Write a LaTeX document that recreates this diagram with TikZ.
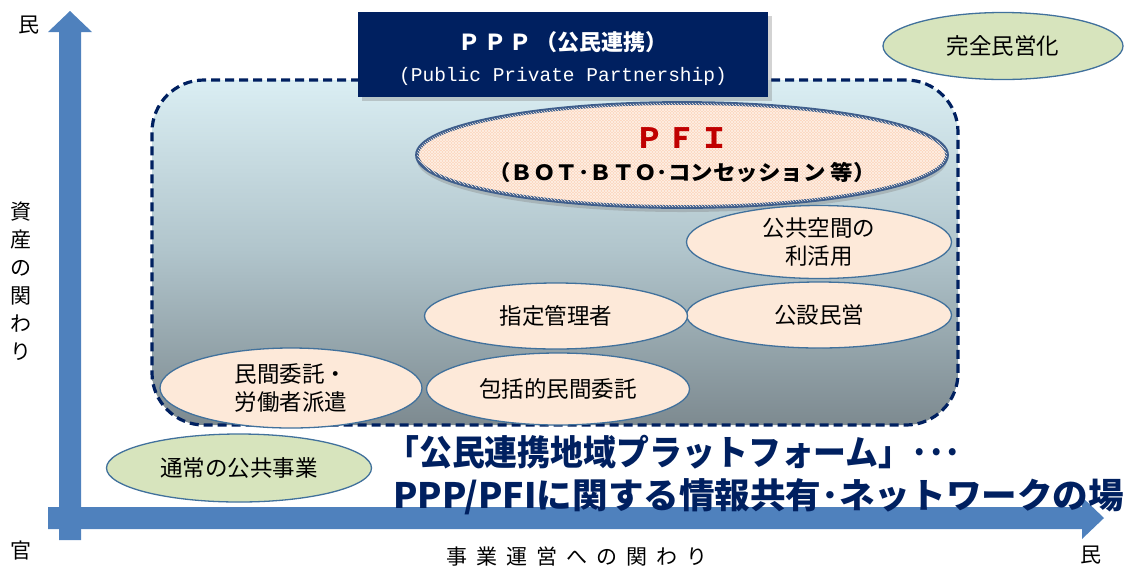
\documentclass[tikz,border=0pt]{standalone}
\usepackage{fontspec}
\setmainfont{Noto Sans CJK JP}
\newfontfamily\jp{Noto Sans CJK JP}
\newfontfamily\monofnt{Liberation Mono}
\usetikzlibrary{shapes.geometric,shadows,patterns}
\definecolor{navy}{HTML}{002060}
\definecolor{axisblue}{HTML}{4F81BD}
\definecolor{ellborder}{HTML}{41719C}
\definecolor{peach}{HTML}{FDE9D9}
\definecolor{pfipeach}{HTML}{FBD6BD}
\definecolor{pfiline}{HTML}{FEF0E6}
\definecolor{pfiborder}{HTML}{3F5E8C}
\definecolor{lgreen}{HTML}{D7E4BD}
\definecolor{pfired}{HTML}{C00000}
\definecolor{areatop}{HTML}{DAEEF3}
\definecolor{areamid}{HTML}{B0C4CB}
\definecolor{areabot}{HTML}{7D8A90}
\tikzset{
  oval/.style={ellipse, draw=ellborder, line width=1.3pt, fill=peach, inner sep=0pt,
    align=center, text=black, font=\fontsize{22.5}{28}\selectfont},
  greenoval/.style={oval, fill=lgreen},
  axislabel/.style={inner sep=0pt, text=black, font=\fontsize{21}{28}\selectfont, align=center},
  bigtext/.style={anchor=west, inner sep=0pt, text=navy, font=\bfseries\fontsize{35}{40}\selectfont},
}
\begin{document}
\begin{tikzpicture}[x=1pt,y=-1pt]
\useasboundingbox (0,0) rectangle (1126,566);

% PPP area
\node (area) [rectangle, rounded corners=52pt, draw=navy, line width=3.2pt,
  dash pattern=on 9pt off 5pt, top color=areatop, bottom color=areabot, middle color=areamid,
  minimum width=806pt, minimum height=345pt, inner sep=0pt] at (555,252.5) {};

% PPP title box
\node (ppp) [rectangle, fill=navy, minimum width=410pt, minimum height=85pt, inner sep=0pt,
  drop shadow={shadow xshift=4pt, shadow yshift=-4pt, opacity=0.35}] at (563,54.5) {};
\node (ppptext) [inner sep=0pt, text=white, align=center, font=\fontsize{22}{31}\selectfont] at (563,59)
  {{\bfseries Ｐ\,Ｐ\,Ｐ\,（公民連携）}\\{\monofnt\fontsize{19.5}{31}\selectfont (Public Private Partnership)}};

% PFI
\node (pfi) [ellipse, draw=pfiborder, line width=3.8pt, inner sep=0pt,
  minimum width=530pt, minimum height=104pt,
  drop shadow={shadow xshift=0pt, shadow yshift=-5pt, opacity=0.35},
  preaction={fill=pfipeach}, pattern=north east lines, pattern color=pfiline,
  postaction={pattern=north west lines, pattern color=pfiline}] at (682,155) {};
\node (pfitext) [inner sep=0pt, align=center, font=\fontsize{21}{32}\selectfont] at (pfi.center)
  {{\color{pfired}\bfseries\fontsize{28}{32}\selectfont Ｐ\,Ｆ\,Ｉ}\\
   {\bfseries\scalebox{1.07}[1]{（ＢＯＴ･ＢＴＯ･コンセッション 等）}}};

% ovals
\node (kukan) [oval, minimum width=265pt, minimum height=73pt] at (819,242) {公共空間の\\利活用};
\node (kosetsu) [oval, minimum width=265pt, minimum height=66pt] at (819,315) {公設民営};
\node (shitei) [oval, minimum width=263pt, minimum height=66pt] at (556,316) {指定管理者};
\node (hokatsu) [oval, minimum width=263pt, minimum height=72pt] at (558,389) {包括的民間委託};
\node (minkan) [oval, minimum width=262pt, minimum height=80pt] at (291,388) {民間委託・\\労働者派遣};
\node (tsujo) [greenoval, minimum width=265pt, minimum height=68pt] at (239,468) {通常の公共事業};
\node (kanzen) [greenoval, minimum width=240pt, minimum height=67pt] at (1003,46) {完全民営化};

% axes
\fill[axisblue] (59,540) -- (81,540) -- (81,32) -- (92,32) -- (70,11) -- (48,32) -- (59,32) -- cycle;
\fill[axisblue] (48,507) -- (1082,507) -- (1082,497) -- (1104,518) -- (1082,539) -- (1082,529) -- (48,529) -- cycle;

% axis labels
\node (ymin) [axislabel] at (29,25) {民};
\node (yaxis) [axislabel] at (21,281) {資\\産\\の\\関\\わ\\り};
\node (origin) [axislabel] at (21,551) {官};
\node (xmax) [axislabel] at (1091,555) {民};
\node (xaxis) [axislabel] at (577,557) {事\hspace{9pt}業\hspace{9pt}運\hspace{9pt}営\hspace{9pt}へ\hspace{9pt}の\hspace{9pt}関\hspace{9pt}わ\hspace{9pt}り};

% platform text
\node (plat1) [bigtext] at (386,452) {\scalebox{0.94}[1]{「公民連携地域プラットフォーム」･･･}};
\node (plat2) [bigtext] at (393,497) {\scalebox{1.017}[1]{PPP/PFIに関する情報共有･ネットワークの場}};
\end{tikzpicture}
\end{document}
